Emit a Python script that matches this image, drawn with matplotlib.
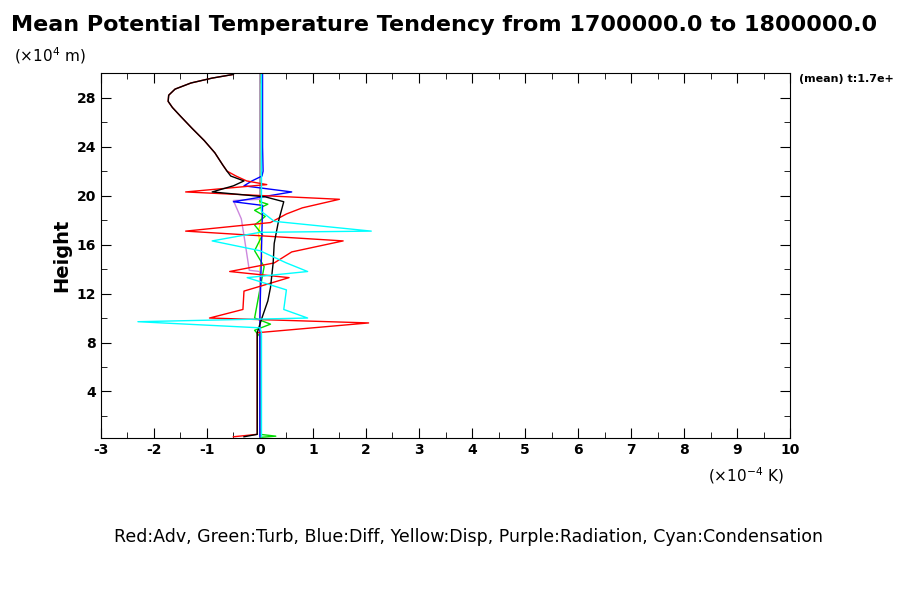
import matplotlib
matplotlib.use("Agg")
import matplotlib.pyplot as plt
import numpy as np

# Red: Adv
adv_x = [-0.5, -0.9, -1.3, -1.6, -1.72, -1.73, -1.65, -1.5, -1.28, -1.05, -0.85, -0.7, -0.62, -0.45, -0.25, 0.13, -1.4, 1.5, 0.8, 0.5, 0.2, -1.4, 1.57, 0.6, 0.27, -0.57, 0.55, -0.3, -0.32, -0.95, 2.05, -0.05, -0.05, -0.05, -0.5]
adv_y = [29.9, 29.6, 29.2, 28.7, 28.2, 27.7, 27.2, 26.5, 25.5, 24.5, 23.5, 22.5, 22.0, 21.6, 21.2, 20.9, 20.3, 19.7, 19.0, 18.5, 17.8, 17.1, 16.3, 15.4, 14.5, 13.8, 13.3, 12.2, 10.7, 10.0, 9.6, 8.8, 4.0, 0.5, 0.3]
# Black: total
tot_x = [-0.5, -0.9, -1.3, -1.6, -1.72, -1.73, -1.65, -1.5, -1.28, -1.05, -0.85, -0.7, -0.62, -0.55, -0.3, -0.5, -0.9, 0.1, 0.45, 0.35, 0.27, 0.25, 0.2, 0.15, 0.03, -0.05, -0.05, -0.05, -0.3]
tot_y = [29.9, 29.6, 29.2, 28.7, 28.2, 27.7, 27.2, 26.5, 25.5, 24.5, 23.5, 22.5, 22.0, 21.6, 21.2, 20.8, 20.3, 19.9, 19.5, 17.9, 16.1, 14.5, 12.5, 11.4, 9.9, 8.8, 4.0, 0.5, 0.3]
# Blue: Diff
dif_x = [0.05, 0.05, 0.06, 0.04, -0.15, -0.3, 0.6, 0.05, -0.5, 0.05, 0.0, 0.0]
dif_y = [29.9, 24.0, 22.0, 21.6, 21.2, 20.8, 20.3, 19.9, 19.5, 19.2, 10.0, 0.3]
# Cyan: Condensation
con_x = [0.03, 0.03, 0.27, 2.1, 0.0, -0.9, 0.0, 0.5, 0.9, -0.24, 0.5, 0.45, 0.9, -2.3, 0.0, 0.03, 0.03]
con_y = [29.9, 18.7, 17.9, 17.1, 17.0, 16.3, 15.5, 14.5, 13.8, 13.3, 12.3, 10.7, 10.0, 9.7, 9.2, 8.8, 0.3]
# Purple: Radiation
rad_x = [0.0, 0.0, -0.5, -0.35, -0.27, -0.2, 0.0, 0.0]
rad_y = [29.9, 19.7, 19.6, 18.1, 15.9, 13.9, 13.8, 0.3]
# Green: Turb
trb_x = [0.0, 0.0, 0.15, -0.1, 0.1, -0.1, 0.05, -0.1, 0.08, -0.1, 0.2, -0.1, 0.0, 0.0, 0.3, 0.0]
trb_y = [29.9, 19.5, 19.3, 18.8, 18.3, 17.6, 16.8, 15.5, 14.2, 10.0, 9.5, 9.0, 8.5, 0.5, 0.35, 0.25]
# Yellow: Disp
dsp_x = [0.0, 0.0, 0.05, -0.03, 0.04, 0.0, 0.0]
dsp_y = [29.9, 19.2, 18.5, 17.0, 15.0, 14.0, 0.3]

xticks = [-3, -2, -1, 0, 1, 2, 3, 4, 5, 6, 7, 8, 9, 10]
yticks = [4, 8, 12, 16, 20, 24, 28]

fig = plt.figure(figsize=(9, 6), dpi=100)
ax = fig.add_axes([0.112, 0.27, 0.766, 0.608])
ax.plot(dsp_x, dsp_y, color='yellow', lw=1)
ax.plot(trb_x, trb_y, color='#00dd00', lw=1)
ax.plot(rad_x, rad_y, color='#cc88dd', lw=1)
ax.plot(dif_x, dif_y, color='blue', lw=1)
ax.plot(adv_x, adv_y, color='red', lw=1)
ax.plot(tot_x, tot_y, color='black', lw=1)
ax.plot(con_x, con_y, color='cyan', lw=1)
ax.set_xlim(-3, 10)
ax.set_ylim(0.2, 30)
ax.set_xticks(xticks)
ax.set_xticklabels([str(v) for v in xticks], fontsize=10, fontweight='bold')
ax.set_yticks(yticks)
ax.set_yticklabels([str(v) for v in yticks], fontsize=10, fontweight='bold')
ax.set_xticks(np.arange(-3, 10.01, 0.5), minor=True)
ax.set_yticks(np.arange(2, 30, 2), minor=True)
ax.tick_params(which='both', direction='in', top=True, right=True)
ax.tick_params(which='major', length=7)
ax.tick_params(which='minor', length=4)
ax.set_ylabel('Height', fontsize=14, fontweight='bold')
fig.text(0.012, 0.975, 'Mean Potential Temperature Tendency from 1700000.0 to 1800000.0',
         fontsize=16, fontweight='bold', va='top')
fig.text(0.015, 0.925, '(×10$^4$ m)', fontsize=11, va='top')
fig.text(0.888, 0.868, '(mean) t:1.7e+', fontsize=8, fontweight='bold', va='center')
fig.text(0.787, 0.197, '(×10$^{-4}$ K)', fontsize=11)
fig.text(0.52, 0.097, 'Red:Adv, Green:Turb, Blue:Diff, Yellow:Disp, Purple:Radiation, Cyan:Condensation',
         fontsize=12.5, ha='center')
fig.savefig('out.png', dpi=100)
